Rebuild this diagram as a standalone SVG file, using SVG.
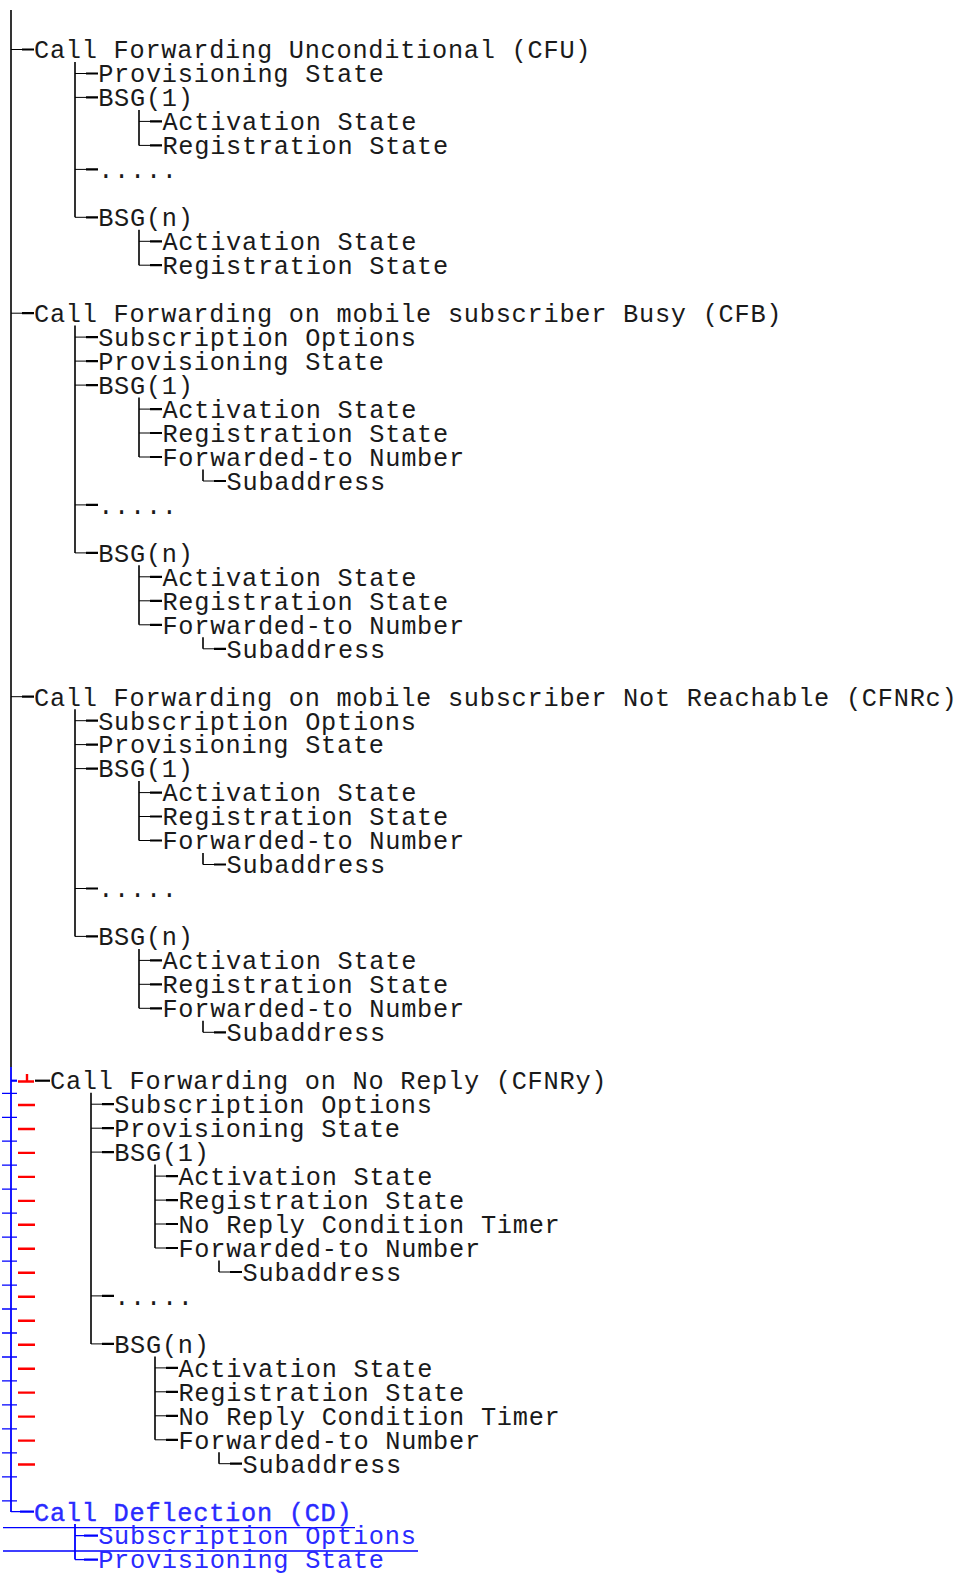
<svg xmlns="http://www.w3.org/2000/svg" width="960" height="1573" viewBox="0 0 960 1573">
<style>
.t{font-family:"Liberation Mono","Courier New",monospace;font-size:25.3px;letter-spacing:0.74px;fill:#1a1a1a}
.b{fill:#2a2aff}
.cd{stroke:#2a2aff;stroke-width:0.4}
.v{fill:none;stroke:#000;stroke-width:1.6}
.s{fill:none;stroke:#000;stroke-width:1}
.d{fill:none;stroke:#000;stroke-width:2.2}
.vb{fill:none;stroke:#0000ff;stroke-width:1.8}
.db{fill:none;stroke:#0000ff;stroke-width:2.2}
.ub{fill:none;stroke:#0000ff;stroke-width:1.3}
.r{fill:none;stroke:#ff0000;stroke-width:2.4}
</style>
<rect width="960" height="1573" fill="#fff"/>
<g id="connectors">
<!-- trunk -->
<path class="v" d="M11,10V1067"/>
<path class="vb" d="M11,1067V1512"/>
<!-- CFU -->
<path class="v" d="M75,62V217.3M139,110V145.4M139,229.8V265.2"/>
<path class="s" d="M11,49.5h11M75,73.5h11M75,97.4h11M139,121.4h11M139,145.4h11M75,169.4h11M75,217.3h11M139,241.3h11M139,265.2h11"/>
<path class="d" d="M22,49.5h12M86,73.5h12M86,97.4h12M150,121.4h12M150,145.4h12M86,169.4h12M86,217.3h12M150,241.3h12M150,265.2h12"/>
<!-- CFB -->
<path class="v" d="M75,325.6V552.9M139,397.6V457M203,469.5V481M139,565.3V624.8M203,637.3V648.8"/>
<path class="s" d="M11,313.2h11M75,337.1h11M75,361.1h11M75,385.1h11M139,409.1h11M139,433h11M139,457h11M203,481h11M75,504.9h11M75,552.9h11M139,576.8h11M139,600.8h11M139,624.8h11M203,648.8h11"/>
<path class="d" d="M22,313.2h12M86,337.1h12M86,361.1h12M86,385.1h12M150,409.1h12M150,433h12M150,457h12M214,481h12M86,504.9h12M86,552.9h12M150,576.8h12M150,600.8h12M150,624.8h12M214,648.8h12"/>
<!-- CFNRc -->
<path class="v" d="M75,709.2V936.4M139,781.1V840.5M203,853V864.5M139,948.9V1008.3M203,1020.8V1032.3"/>
<path class="s" d="M11,696.7h11M75,720.7h11M75,744.6h11M75,768.6h11M139,792.6h11M139,816.5h11M139,840.5h11M203,864.5h11M75,888.5h11M75,936.4h11M139,960.4h11M139,984.3h11M139,1008.3h11M203,1032.3h11"/>
<path class="d" d="M22,696.7h12M86,720.7h12M86,744.6h12M86,768.6h12M150,792.6h12M150,816.5h12M150,840.5h12M214,864.5h12M86,888.5h12M86,936.4h12M150,960.4h12M150,984.3h12M150,1008.3h12M214,1032.3h12"/>
<!-- CFNRy -->
<path class="db" d="M11,1080.7h6"/>
<path class="r" d="M18,1081.5h16M27,1074V1081.5"/>
<path class="d" d="M35,1080.7h15"/>
<path class="v" d="M91,1092.7V1343.9M155,1164.6V1248M219,1260.5V1272M155,1356.4V1439.8M219,1452.2V1463.7"/>
<path class="s" d="M91,1104.2h11M91,1128.2h11M91,1152.1h11M155,1176.1h11M155,1200.1h11M155,1224h11M155,1248h11M219,1272h11M91,1295.9h11M91,1343.9h11M155,1367.9h11M155,1391.8h11M155,1415.8h11M155,1439.8h11M219,1463.7h11"/>
<path class="d" d="M102,1104.2h12M102,1128.2h12M102,1152.1h12M166,1176.1h12M166,1200.1h12M166,1224h12M166,1248h12M230,1272h12M102,1295.9h12M102,1343.9h12M166,1367.9h12M166,1391.8h12M166,1415.8h12M166,1439.8h12M230,1463.7h12"/>
<path class="ub" d="M2,1093.3h15M2,1117.3h15M2,1141.2h15M2,1165.2h15M2,1189.2h15M2,1213.1h15M2,1237.1h15M2,1261.1h15M2,1285.1h15M2,1309h15M2,1333h15M2,1357h15M2,1380.9h15M2,1404.9h15M2,1428.9h15M2,1452.8h15M2,1476.8h15M2,1500.8h15"/>
<path class="r" d="M18,1105h17M18,1129h17M18,1152.9h17M18,1176.9h17M18,1200.9h17M18,1224.8h17M18,1248.8h17M18,1272.8h17M18,1296.7h17M18,1320.7h17M18,1344.7h17M18,1368.7h17M18,1392.6h17M18,1416.6h17M18,1440.6h17M18,1464.5h17"/>
<!-- CD -->
<path class="ub" d="M11,1511.7h9M75,1535.6h9"/>
<path class="db" d="M20,1511.7h14M84,1535.6h14M84,1559.6h14"/>
<path class="vb" d="M75,1524V1559.6"/>
<path class="ub" d="M75,1559.6h9"/>
<path class="ub" d="M3,1527.7H355M3,1551H418"/>
</g>
<g id="cfu" class="t">
<g id="n0"><text x="34" y="58.3">Call Forwarding Unconditional (CFU)</text></g>
<g id="n1"><text x="98.2" y="82.3">Provisioning State</text></g>
<g id="n2"><text x="98.2" y="106.2">BSG(1)</text></g>
<g id="n3"><text x="162.4" y="130.2">Activation State</text></g>
<g id="n4"><text x="162.4" y="154.2">Registration State</text></g>
<g id="n5"><text x="98.2" y="178.2">.....</text></g>
<g id="n7"><text x="98.2" y="226.1">BSG(n)</text></g>
<g id="n8"><text x="162.4" y="250.1">Activation State</text></g>
<g id="n9"><text x="162.4" y="274">Registration State</text></g>
</g>
<g id="cfb" class="t">
<g id="n11"><text x="34" y="322">Call Forwarding on mobile subscriber Busy (CFB)</text></g>
<g id="n12"><text x="98.2" y="345.9">Subscription Options</text></g>
<g id="n13"><text x="98.2" y="369.9">Provisioning State</text></g>
<g id="n14"><text x="98.2" y="393.9">BSG(1)</text></g>
<g id="n15"><text x="162.4" y="417.9">Activation State</text></g>
<g id="n16"><text x="162.4" y="441.8">Registration State</text></g>
<g id="n17"><text x="162.4" y="465.8">Forwarded-to Number</text></g>
<g id="n18"><text x="226.6" y="489.8">Subaddress</text></g>
<g id="n19"><text x="98.2" y="513.7">.....</text></g>
<g id="n21"><text x="98.2" y="561.7">BSG(n)</text></g>
<g id="n22"><text x="162.4" y="585.6">Activation State</text></g>
<g id="n23"><text x="162.4" y="609.6">Registration State</text></g>
<g id="n24"><text x="162.4" y="633.6">Forwarded-to Number</text></g>
<g id="n25"><text x="226.6" y="657.6">Subaddress</text></g>
</g>
<g id="cfnrc" class="t">
<g id="n27"><text x="34" y="705.5">Call Forwarding on mobile subscriber Not Reachable (CFNRc)</text></g>
<g id="n28"><text x="98.2" y="729.5">Subscription Options</text></g>
<g id="n29"><text x="98.2" y="753.4">Provisioning State</text></g>
<g id="n30"><text x="98.2" y="777.4">BSG(1)</text></g>
<g id="n31"><text x="162.4" y="801.4">Activation State</text></g>
<g id="n32"><text x="162.4" y="825.3">Registration State</text></g>
<g id="n33"><text x="162.4" y="849.3">Forwarded-to Number</text></g>
<g id="n34"><text x="226.6" y="873.3">Subaddress</text></g>
<g id="n35"><text x="98.2" y="897.3">.....</text></g>
<g id="n37"><text x="98.2" y="945.2">BSG(n)</text></g>
<g id="n38"><text x="162.4" y="969.2">Activation State</text></g>
<g id="n39"><text x="162.4" y="993.1">Registration State</text></g>
<g id="n40"><text x="162.4" y="1017.1">Forwarded-to Number</text></g>
<g id="n41"><text x="226.6" y="1041.1">Subaddress</text></g>
</g>
<g id="cfnry" class="t">
<g id="n43"><text x="50" y="1089">Call Forwarding on No Reply (CFNRy)</text></g>
<g id="n44"><text x="114.2" y="1113">Subscription Options</text></g>
<g id="n45"><text x="114.2" y="1137">Provisioning State</text></g>
<g id="n46"><text x="114.2" y="1160.9">BSG(1)</text></g>
<g id="n47"><text x="178.4" y="1184.9">Activation State</text></g>
<g id="n48"><text x="178.4" y="1208.9">Registration State</text></g>
<g id="n49"><text x="178.4" y="1232.8">No Reply Condition Timer</text></g>
<g id="n50"><text x="178.4" y="1256.8">Forwarded-to Number</text></g>
<g id="n51"><text x="242.6" y="1280.8">Subaddress</text></g>
<g id="n52"><text x="114.2" y="1304.7">.....</text></g>
<g id="n54"><text x="114.2" y="1352.7">BSG(n)</text></g>
<g id="n55"><text x="178.4" y="1376.7">Activation State</text></g>
<g id="n56"><text x="178.4" y="1400.6">Registration State</text></g>
<g id="n57"><text x="178.4" y="1424.6">No Reply Condition Timer</text></g>
<g id="n58"><text x="178.4" y="1448.6">Forwarded-to Number</text></g>
<g id="n59"><text x="242.6" y="1472.5">Subaddress</text></g>
</g>
<g id="cd" class="t b">
<g id="n61"><text class="cd" x="34" y="1520.5">Call Deflection (CD)</text></g>
<g id="n62"><text x="98.2" y="1544.4">Subscription Options</text></g>
<g id="n63"><text x="98.2" y="1568.4">Provisioning State</text></g>
</g>
</svg>
